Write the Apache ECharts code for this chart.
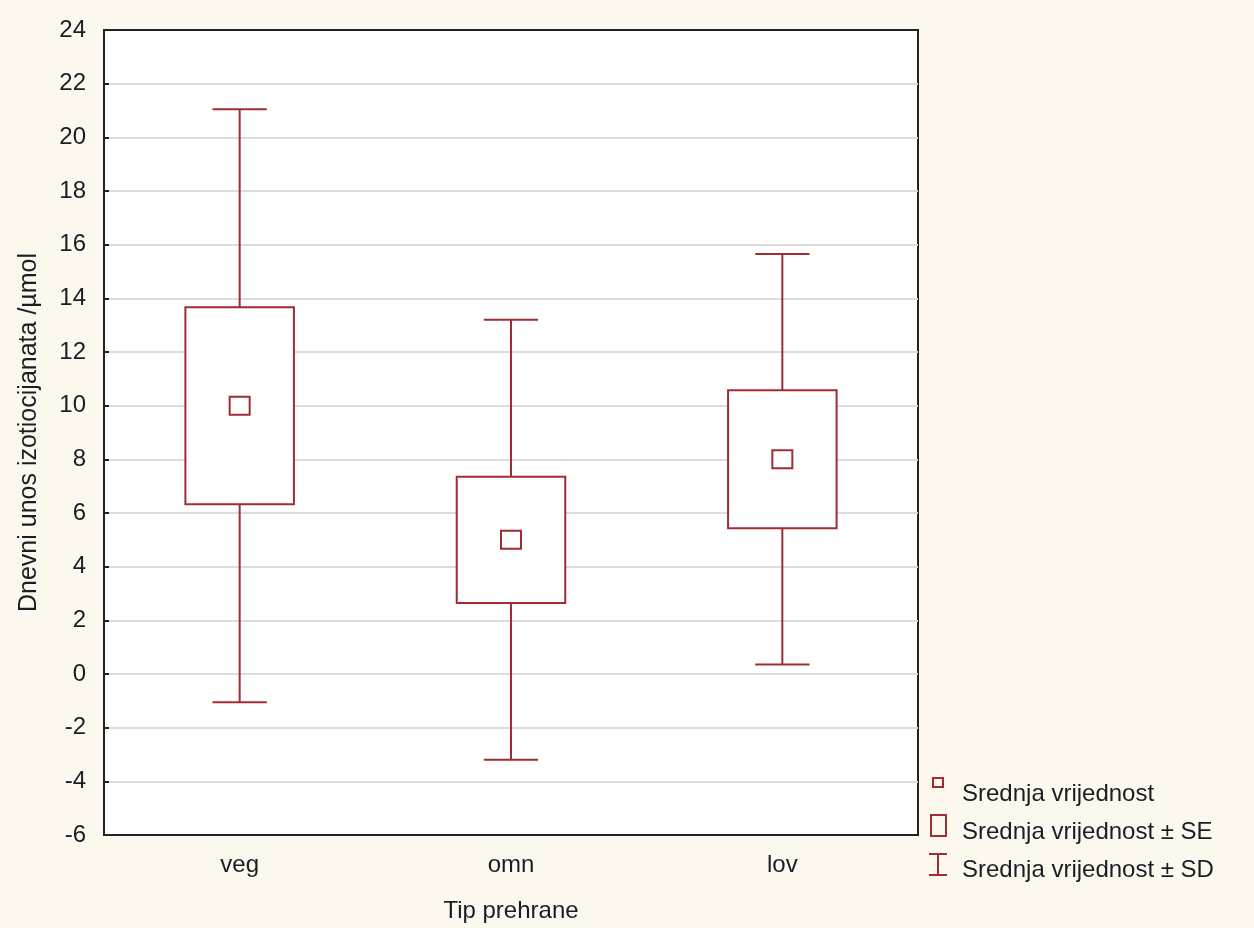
<!DOCTYPE html>
<html>
<head>
<meta charset="utf-8">
<style type="text/css">
body { margin: 0; background: #fdf8ee; }
</style>
</head>
<body>
<div style="width: 1254px;height: 928px;" id="chart"></div>
<script src="https://cdn.jsdelivr.net/npm/echarts@6/dist/echarts.min.js"></script>
<script>

let categories = ['veg', 'omn', 'lov'];
let means = [10.0, 5.0, 8.0];
let se = [3.67, 2.35, 2.57];
let sd = [11.05, 8.2, 7.65];
let yTicks = [-6, 24, 2];  // min, max, interval

let legendLabels = ['Srednja vrijednost', 'Srednja vrijednost ± SE', 'Srednja vrijednost ± SD'];

let red = '#a02c34';
let font = 'Liberation Sans, Arial, sans-serif';
let ink = '#1c1c24';

let data = categories.map((c, i) => [i, means[i], means[i] - se[i], means[i] + se[i], means[i] - sd[i], means[i] + sd[i]]);

let chart = echarts.init(document.getElementById('chart'));

let legendX = 938;
let legendY = [794, 832, 870];

let option = {
    backgroundColor: '#fdf8ee',
    animation: false,
    grid: {
        left: 104, top: 30, right: 336, bottom: 93,
        show: true,
        backgroundColor: '#ffffff',
        borderColor: '#222',
        borderWidth: 2
    },
    xAxis: [{
        type: 'category',
        data: categories,
        name: 'Tip prehrane',
        nameLocation: 'middle',
        nameGap: 64,
        nameTextStyle: {fontFamily: font, fontSize: 24, color: ink},
        axisLine: {onZero: false, lineStyle: {color: '#222', width: 2}},
        axisTick: {inside: true, alignWithLabel: true, length: 5, lineStyle: {color: '#222', width: 2}},
        axisLabel: {fontFamily: font, fontSize: 24, color: ink, margin: 18}
    }, {
        type: 'category',
        data: categories,
        position: 'top',
        axisLine: {onZero: false, lineStyle: {color: '#222', width: 2}},
        axisTick: {inside: true, alignWithLabel: true, length: 6, lineStyle: {color: '#222', width: 2}},
        axisLabel: {show: false}
    }],
    yAxis: {
        type: 'value',
        min: yTicks[0],
        max: yTicks[1],
        interval: yTicks[2],
        name: 'Dnevni unos izotiocijanata /µmol',
        nameLocation: 'middle',
        nameGap: 62,
        nameTextStyle: {fontFamily: font, fontSize: 25, color: ink},
        axisLine: {show: true, onZero: false, lineStyle: {color: '#222', width: 2}},
        axisTick: {show: true, inside: true, length: 5, lineStyle: {color: '#222', width: 2}},
        axisLabel: {fontFamily: font, fontSize: 24, color: ink, margin: 18},
        splitLine: {lineStyle: {color: '#dcdcdc', width: 2}}
    },
    series: [{
        type: 'custom',
        data: data,
        encode: {x: 0, y: [1, 2, 3, 4, 5]},
        renderItem: (params, api) => {
            let x = api.coord([api.value(0), 0])[0];
            let m = api.coord([api.value(0), api.value(1)]);
            let seLo = api.coord([api.value(0), api.value(2)])[1];
            let seHi = api.coord([api.value(0), api.value(3)])[1];
            let sdLo = api.coord([api.value(0), api.value(4)])[1];
            let sdHi = api.coord([api.value(0), api.value(5)])[1];
            let band = api.size([1, 0])[0];
            let boxW = band * 0.4;
            let capW = band * 0.2;
            let line = {stroke: red, lineWidth: 2, fill: null};
            return {
                type: 'group',
                children: [
                    {type: 'line', shape: {x1: x, y1: sdLo, x2: x, y2: sdHi}, style: line},
                    {type: 'line', shape: {x1: x - capW / 2, y1: sdLo, x2: x + capW / 2, y2: sdLo}, style: line},
                    {type: 'line', shape: {x1: x - capW / 2, y1: sdHi, x2: x + capW / 2, y2: sdHi}, style: line},
                    {type: 'rect', shape: {x: x - boxW / 2, y: seHi, width: boxW, height: seLo - seHi},
                        style: {stroke: red, lineWidth: 2, fill: '#ffffff'}},
                    {type: 'rect', shape: {x: m[0] - 10, y: m[1] - 9, width: 20, height: 18},
                        style: {stroke: red, lineWidth: 2, fill: '#ffffff'}}
                ]
            };
        }
    }],
    graphic: [
        {type: 'rect', shape: {x: legendX - 5, y: legendY[0] - 16, width: 10, height: 9},
            style: {stroke: red, lineWidth: 2, fill: '#fdf8ee'}},
        {type: 'rect', shape: {x: legendX - 7, y: legendY[1] - 17, width: 15, height: 21},
            style: {stroke: red, lineWidth: 2, fill: '#fdf8ee'}},
        {type: 'polyline', shape: {points: [[legendX - 9, legendY[2] - 16], [legendX + 9, legendY[2] - 16]]},
            style: {stroke: red, lineWidth: 2}},
        {type: 'polyline', shape: {points: [[legendX, legendY[2] - 16], [legendX, legendY[2] + 5]]},
            style: {stroke: red, lineWidth: 2}},
        {type: 'polyline', shape: {points: [[legendX - 9, legendY[2] + 5], [legendX + 9, legendY[2] + 5]]},
            style: {stroke: red, lineWidth: 2}}
    ].concat(legendLabels.map((t, i) => ({
        type: 'text', x: 962, y: legendY[i],
        style: {text: t, fontFamily: font, fontSize: 24, fill: ink, verticalAlign: 'middle'}
    })))
};

chart.setOption(option);

</script>
</body>
</html>
